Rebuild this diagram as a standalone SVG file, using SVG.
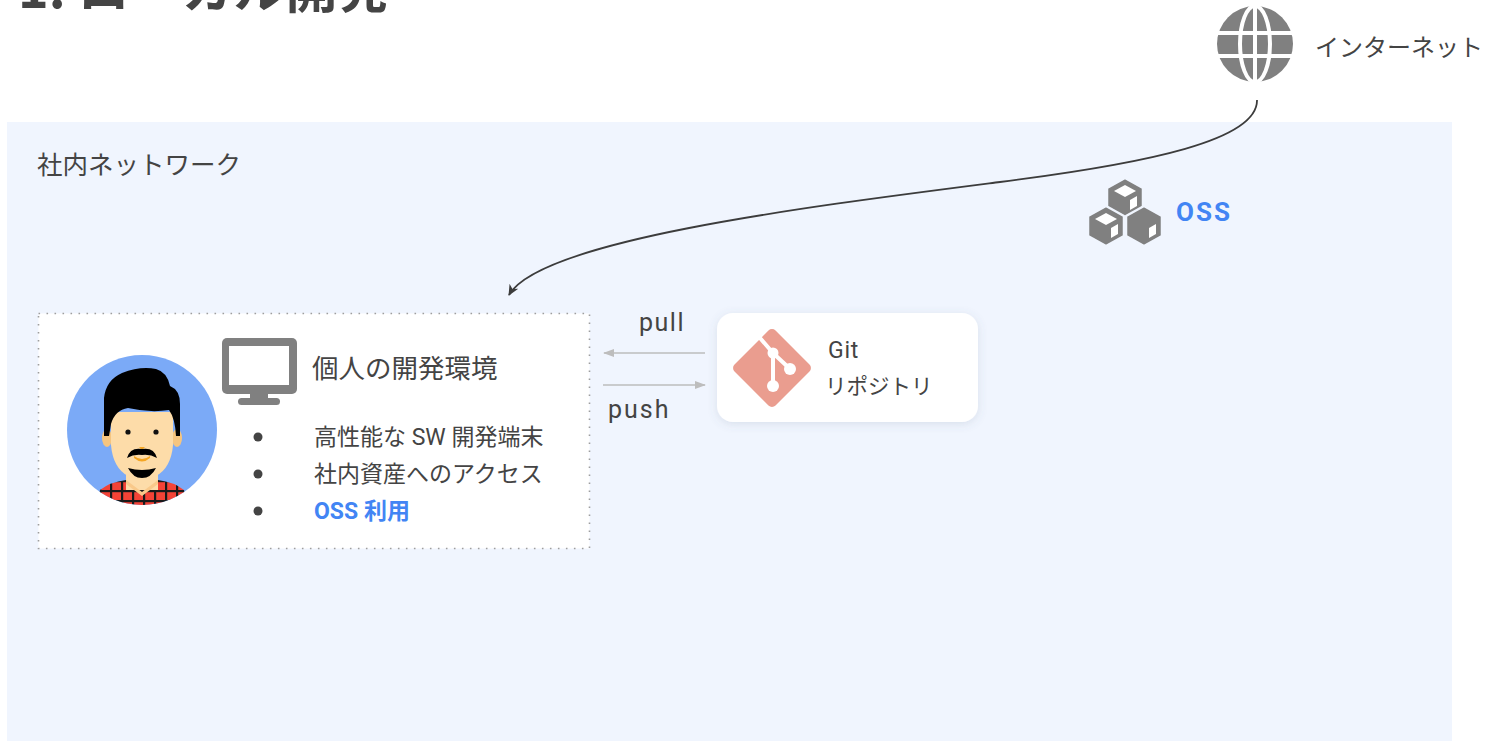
<svg xmlns="http://www.w3.org/2000/svg" width="1485" height="741" viewBox="0 0 1485 741">
  <style>
    .t { font-family: "Roboto", "Noto Sans CJK JP", sans-serif; fill: #444444; }
    .jp { font-family: "Noto Sans CJK JP", sans-serif; fill: #444444; }
    .blue { fill: #4285F4; font-weight: bold; }
    .icon { fill: #808080; }
    .link { fill: none; stroke: #bdbdbd; stroke-width: 1.5; }
  </style>
  <defs>
    <marker id="arrowDark" viewBox="0 0 12 12" refX="10" refY="6" markerWidth="12" markerHeight="12" markerUnits="userSpaceOnUse" orient="auto">
      <path d="M0,1 L11,6 L0,11 L3,6 z" fill="#3c3c3c"/>
    </marker>
    <marker id="arrowGray" viewBox="0 0 12 12" refX="11" refY="6" markerWidth="11" markerHeight="11" markerUnits="userSpaceOnUse" orient="auto">
      <path d="M0,1.5 L12,6 L0,10.5 z" fill="#bdbdbd"/>
    </marker>
    <filter id="softShadow" x="-20%" y="-30%" width="140%" height="160%">
      <feDropShadow dx="0" dy="2" stdDeviation="5" flood-color="#5a6a8a" flood-opacity="0.16"/>
    </filter>
    <pattern id="plaid" x="0" y="0" width="11" height="10" patternUnits="userSpaceOnUse">
      <rect width="11" height="10" fill="#F44336"/>
      <rect x="0" y="0" width="2.2" height="10" fill="#1a1a1a"/>
      <rect x="0" y="0" width="11" height="2.2" fill="#1a1a1a"/>
    </pattern>
    <clipPath id="avatarClip">
      <circle cx="142" cy="430" r="75"/>
    </clipPath>
  </defs>

  <!-- page title (runs off the top edge) -->
  <text class="jp" x="18" y="8" font-size="52" font-weight="bold" fill="#424242">1. ローカル開発</text>

  <!-- internal network zone -->
  <g id="intranet">
    <rect x="7" y="122" width="1445" height="619" fill="#F0F5FE"/>
    <text class="jp" x="37" y="174" font-size="25.5">社内ネットワーク</text>
  </g>

  <!-- internet -->
  <g id="internet">
    <circle cx="1255" cy="44" r="38" class="icon"/>
    <g fill="none" stroke="#ffffff" stroke-width="4">
      <ellipse cx="1255" cy="44" rx="15" ry="38"/>
      <line x1="1255" y1="6" x2="1255" y2="82"/>
      <line x1="1215" y1="33" x2="1295" y2="33"/>
      <line x1="1215" y1="56" x2="1295" y2="56"/>
    </g>
    <text class="jp" x="1315" y="56" font-size="24">インターネット</text>
  </g>

  <!-- OSS packages -->
  <g id="oss">
    <g stroke="#F0F5FE" stroke-width="2.5" stroke-linejoin="round">
      <path d="M1125,178 L1143,188 L1143,208 L1125,218 L1107,208 L1107,188 z" class="icon"/>
      <path d="M1106,206 L1124,216 L1124,236 L1106,246 L1088,236 L1088,216 z" class="icon"/>
      <path d="M1144,206 L1162,216 L1162,236 L1144,246 L1126,236 L1126,216 z" class="icon"/>
    </g>
    <g fill="#ffffff">
      <path d="M1125,185 L1136,191 L1125,197 L1114,191 z"/>
      <path d="M1130,200 L1137,196 L1137,206 L1130,210 z"/>
      <path d="M1106,213 L1117,219 L1106,225 L1095,219 z"/>
      <path d="M1111,228 L1118,224 L1118,234 L1111,238 z"/>
      <path d="M1149,228 L1156,224 L1156,234 L1149,238 z"/>
    </g>
    <text class="t blue" x="1176" y="221" font-size="26" letter-spacing="2">OSS</text>
  </g>

  <!-- personal development environment -->
  <g id="dev-env">
    <rect x="38.5" y="313.5" width="551" height="235" fill="#ffffff" stroke="#9e9e9e" stroke-width="1.6" stroke-dasharray="1.6 6.4"/>
    <!-- developer avatar -->
    <g id="avatar">
      <circle cx="142" cy="430" r="75" fill="#7BAAF7"/>
      <g clip-path="url(#avatarClip)">
        <path d="M97,505 L100,490 Q110,482 126,480 L142,490 L158,480 Q174,482 184,490 L187,505 z" fill="url(#plaid)"/>
        <rect x="126" y="470" width="32" height="20" fill="#FDDCA9"/>
        <path d="M126,480 L142,492 L158,480 L158,484 L142,496 L126,484 z" fill="#F9C98A"/>
      </g>
      <ellipse cx="107" cy="438" rx="5" ry="9" fill="#F6C57F"/>
      <ellipse cx="177" cy="438" rx="5" ry="9" fill="#F6C57F"/>
      <path d="M111,412 L111,445 Q113,468 128,476 Q142,482 156,476 Q171,468 173,445 L173,412 z" fill="#FDDCA9"/>
      <path d="M104,436 L104,398 Q106,380 122,373 Q140,366 156,369 Q167,372 170,386 Q180,390 180,404 L180,436 L176,436 Q175,418 169,410 Q150,413 128,408 Q115,410 111,424 L109,436 z" fill="#000000"/>
      <circle cx="128" cy="432" r="2.6" fill="#111"/>
      <circle cx="156" cy="432" r="2.6" fill="#111"/>
      <path d="M139,447 L145,447 L142,450 z" fill="#F5A623"/>
      <path d="M134,456 Q142,462 150,456 L150,458 Q142,465 134,458 z" fill="#F5A623"/>
      <path d="M127,458 Q130,447 142,449 Q154,447 157,458 Q150,454 142,455 Q134,454 127,458 z" fill="#000"/>
      <path d="M128,468 Q142,472 156,468 Q151,478 142,478 Q133,478 128,468 z" fill="#000"/>
    </g>
    <!-- monitor icon -->
    <g class="icon">
      <rect x="222" y="338" width="75" height="56" rx="5"/>
      <rect x="250" y="392" width="18" height="8"/>
      <rect x="238" y="398" width="42" height="7" rx="3.5"/>
    </g>
    <rect x="229" y="346" width="60" height="39" fill="#ffffff"/>
    <text class="jp" x="312" y="378" font-size="26.5">個人の開発環境</text>
    <g fill="#444444">
      <circle cx="258" cy="437" r="4.5"/>
      <circle cx="258" cy="474" r="4.5"/>
      <circle cx="258" cy="511" r="4.5"/>
    </g>
    <text class="t" x="314" y="445" font-size="23">高性能な SW 開発端末</text>
    <text class="t" x="314" y="482" font-size="23">社内資産へのアクセス</text>
    <text class="t blue" x="314" y="519" font-size="23">OSS 利用</text>
  </g>

  <!-- git repository -->
  <g id="git-repo">
    <rect x="717" y="313" width="261" height="109" rx="16" fill="#ffffff" filter="url(#softShadow)"/>
    <rect x="743" y="339" width="58" height="58" rx="5" fill="#EA9D8F" transform="rotate(45 772 368)"/>
    <g stroke="#ffffff" stroke-width="4" fill="none" stroke-linecap="round">
      <line x1="760" y1="338" x2="773" y2="353"/>
      <line x1="773" y1="353" x2="773" y2="385"/>
      <line x1="773" y1="353" x2="789" y2="368"/>
    </g>
    <g fill="#ffffff">
      <circle cx="773" cy="353" r="5.5"/>
      <circle cx="773" cy="386" r="6"/>
      <circle cx="790" cy="369" r="6"/>
    </g>
    <text class="t" x="828" y="358" font-size="23" letter-spacing="0.8">Git</text>
    <text class="jp" x="825" y="394" font-size="21.5">リポジトリ</text>
  </g>

  <!-- connectors -->
  <g id="connectors">
    <path d="M1257,100 C1258,140 1150,163 1000,182 C805,207 540,240 509,295" fill="none" stroke="#3c3c3c" stroke-width="1.8" marker-end="url(#arrowDark)"/>
    <line x1="705" y1="353" x2="604" y2="353" class="link" marker-end="url(#arrowGray)"/>
    <line x1="603" y1="385" x2="705" y2="385" class="link" marker-end="url(#arrowGray)"/>
    <text class="t" x="639" y="331" font-size="25" letter-spacing="1.5">pull</text>
    <text class="t" x="608" y="418" font-size="25" letter-spacing="2">push</text>
  </g>
</svg>
